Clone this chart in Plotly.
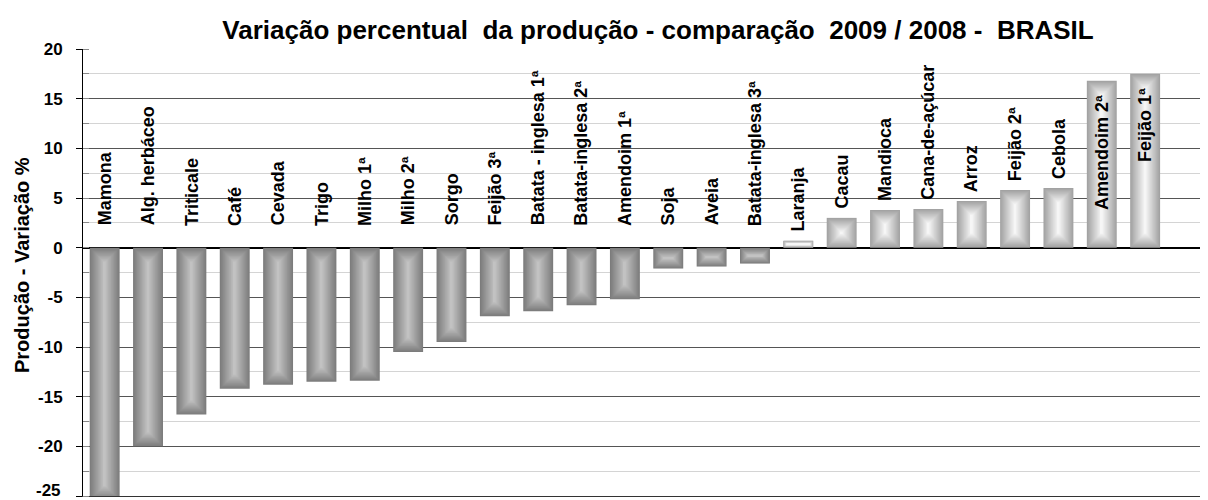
import plotly.graph_objects as go

categories = ["Mamona", "Alg. herbáceo", "Triticale", "Café", "Cevada", "Trigo",
              "Milho 1ª", "Milho 2ª", "Sorgo", "Feijão 3ª", "Batata - inglesa 1ª",
              "Batata-inglesa 2ª", "Amendoim 1ª", "Soja", "Aveia", "Batata-inglesa 3ª",
              "Laranja", "Cacau", "Mandioca", "Cana-de-açúcar", "Arroz", "Feijão 2ª",
              "Cebola", "Amendoim 2ª", "Feijão 1ª"]
values = [-25.4, -20.0, -16.8, -14.2, -13.8, -13.5, -13.4, -10.5, -9.5, -6.9, -6.4,
          -5.8, -5.2, -2.1, -1.9, -1.6, 0.7, 3.0, 3.8, 3.9, 4.7, 5.8, 6.0, 16.8, 17.5]
y_ticks = [20, 15, 10, 5, 0, -5, -10, -15, -20, -25]

title_text = "Variação percentual  da produção - comparação  2009 / 2008 -  BRASIL"
y_title = "Produção - Variação %"

FONT = "Arial, 'Liberation Sans', sans-serif"
BAR_W = 0.69
N_LAYERS = 16
X_RANGE = [-0.5, 25.45]
Y_RANGE = [-25, 20]

# page body has an 8px margin: size the figure so the plot lands where the reference has it
OFF = 8
W, H = 1208 - OFF, 500 - OFF
ML, MT, MB = 83 - OFF, 49 - OFF, 4
PLOT_W = W - ML
PLOT_H = H - MT - MB
PX_X = PLOT_W / (X_RANGE[1] - X_RANGE[0])   # px per category unit
PX_Y = PLOT_H / (Y_RANGE[1] - Y_RANGE[0])   # px per value unit


def mix(c1, c2, t):
    r = [round(a + (b - a) * t) for a, b in zip(c1, c2)]
    return "rgb(%d,%d,%d)" % tuple(r)


NEG_OUT, NEG_IN = (124, 124, 124), (194, 194, 194)
POS_OUT, POS_IN = (162, 162, 162), (246, 246, 246)

fig = go.Figure()
idx = list(range(len(categories)))
w_px = BAR_W * PX_X
for k in range(N_LAYERS):
    t = k / N_LAYERS
    ys, bases, widths, colors = [], [], [], []
    for v in values:
        h_px = abs(v) * PX_Y
        d = min(w_px, h_px) / 2 * t          # equal inset (px) on every side
        sgn = 1 if v >= 0 else -1
        bases.append(sgn * d / PX_Y)
        ys.append(v - sgn * 2 * d / PX_Y)
        widths.append((w_px - 2 * d) / PX_X)
        tc = k / (N_LAYERS - 1)
        colors.append(mix(NEG_OUT, NEG_IN, tc) if v < 0 else mix(POS_OUT, POS_IN, tc))
    fig.add_trace(go.Bar(
        x=idx, y=ys, base=bases, width=widths,
        marker=dict(color=colors, line=dict(width=0)),
        hoverinfo="skip", showlegend=False,
    ))

ann = []
LABEL_SIZE = 18
for i, (c, v) in enumerate(zip(categories, values)):
    est_len = len(c) * 0.55 * LABEL_SIZE
    lf = dict(family=FONT, size=LABEL_SIZE, color="black", weight="bold")
    if v < 0:
        ann.append(dict(x=i, y=0, text=c, textangle=-90, yanchor="bottom", xanchor="center",
                        yshift=20, showarrow=False, font=lf))
    else:
        space_above = (Y_RANGE[1] - v) * PX_Y
        if est_len + 10 < space_above:
            ann.append(dict(x=i, y=v, text=c, textangle=-90, yanchor="bottom", xanchor="center",
                            yshift=7, showarrow=False, font=lf))
        else:
            ann.append(dict(x=i, y=v, text=c, textangle=-90, yanchor="top", xanchor="center",
                            yshift=-12, showarrow=False, font=lf))

# y-axis title
ann.append(dict(xref="paper", yref="paper", x=-(83 - 22) / PLOT_W, y=(496 - 265) / PLOT_H,
                text=y_title, textangle=-90, showarrow=False, xanchor="center", yanchor="middle",
                font=dict(family=FONT, size=20, color="black", weight="bold")))
# bottom tick label (plotly drops it at the clipped edge)
ann.append(dict(xref="paper", yref="y", x=-(83 - 63) / PLOT_W, y=Y_RANGE[0], yshift=6,
                text=str(Y_RANGE[0]), showarrow=False, xanchor="right", yanchor="middle",
                font=dict(family=FONT, size=17, color="black", weight="bold")))

fig.update_layout(
    width=W, height=H,
    margin=dict(l=ML, r=0, t=MT, b=MB),
    paper_bgcolor="white", plot_bgcolor="white",
    barmode="overlay",
    title=dict(text=title_text, x=(658 - OFF) / W, xanchor="center",
               y=1 - (30 - OFF) / H, yanchor="middle", yref="container",
               font=dict(family=FONT, size=26, color="black", weight="bold")),
    annotations=ann,
    xaxis=dict(range=X_RANGE, showticklabels=False, showgrid=False, zeroline=False,
               showline=True, linecolor="#333333", linewidth=1, ticks=""),
    yaxis=dict(range=Y_RANGE, tickvals=y_ticks, ticktext=[str(t) for t in y_ticks],
               tickfont=dict(family=FONT, size=17, color="black", weight="bold"),
               ticklabelstandoff=10,
               showgrid=True, gridcolor="#555555", gridwidth=1,
               zeroline=True, zerolinecolor="black", zerolinewidth=1.5,
               showline=True, linecolor="black", linewidth=1,
               ticks="outside", ticklen=6, tickcolor="black",
               minor=dict(dtick=2.5, tick0=0, showgrid=True, gridcolor="#d4d4d4",
                          ticks="inside", ticklen=6, tickcolor="#888888")),
)

fig.write_html("out.html")
